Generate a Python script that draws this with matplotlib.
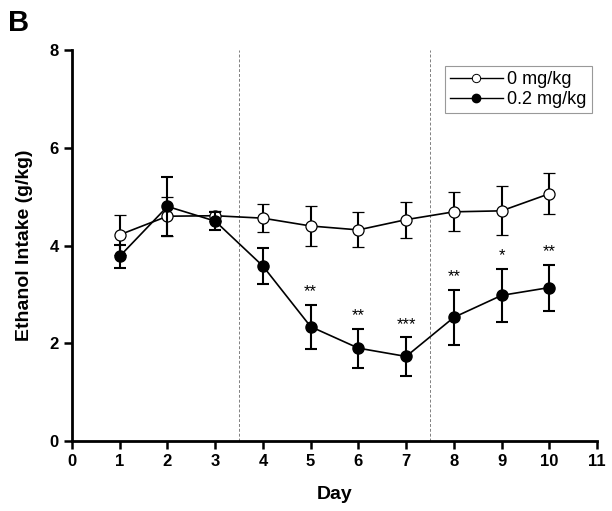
import numpy as np
import matplotlib.pyplot as plt
from matplotlib.lines import Line2D

plt.rcParams['font.family'] = ['Liberation Sans', 'DejaVu Sans']

# datos
days = [1, 2, 3, 4, 5, 6, 7, 8, 9, 10]
veh_mean = [4.22, 4.60, 4.61, 4.56, 4.40, 4.32, 4.53, 4.69, 4.71, 5.06]
veh_sem = [0.41, 0.40, 0.10, 0.28, 0.41, 0.36, 0.37, 0.40, 0.50, 0.42]
drug_mean = [3.78, 4.80, 4.50, 3.58, 2.34, 1.90, 1.73, 2.53, 2.98, 3.14]
drug_sem = [0.23, 0.60, 0.19, 0.37, 0.45, 0.40, 0.39, 0.56, 0.54, 0.47]
stars = ['', '', '', '', '**', '**', '***', '**', '*', '**']

fig = plt.figure(figsize=(6.12, 5.11), dpi=100)
ax = fig.add_axes([0.1176, 0.137, 0.858, 0.765])

ax.axvline(3.5, color='gray', ls=(0, (3, 2)), lw=0.7, zorder=0)
ax.axvline(7.5, color='gray', ls=(0, (3, 2)), lw=0.7, zorder=0)

ax.errorbar(days, veh_mean, yerr=veh_sem, color='black', lw=1.2, elinewidth=1.5,
            capsize=4, capthick=1.5, marker='o', ms=8, mfc='white', mec='black',
            mew=0.9, zorder=3)
ax.errorbar(days, drug_mean, yerr=drug_sem, color='black', lw=1.2, elinewidth=1.5,
            capsize=4, capthick=1.5, marker='o', ms=8, mfc='black', mec='black',
            zorder=4)

for d, m, s, t in zip(days, drug_mean, drug_sem, stars):
    if t:
        ax.annotate(t, (d, m + s), xytext=(0, 4), textcoords='offset points',
                    ha='center', va='bottom', fontsize=12)

ax.set_xlim(0, 11)
ax.set_ylim(0, 8)
ax.set_xticks(range(0, 12))
ax.set_yticks([0, 2, 4, 6, 8])
for sp in ['top', 'right']:
    ax.spines[sp].set_visible(False)
for sp in ['left', 'bottom']:
    ax.spines[sp].set_linewidth(2)
ax.tick_params(direction='out', length=6, width=1.8, labelsize=12)
for lb in ax.get_xticklabels() + ax.get_yticklabels():
    lb.set_fontweight('bold')

ax.set_xlabel('Day', fontsize=14, fontweight='bold', labelpad=12)
ax.set_ylabel('Ethanol Intake (g/kg)', fontsize=14, fontweight='bold', labelpad=12)

handles = [Line2D([], [], color='black', lw=1, marker='o', ms=6, mfc='white', mec='black', mew=0.7),
           Line2D([], [], color='black', lw=1, marker='o', ms=6, mfc='black', mec='black')]
leg = ax.legend(handles, ['0 mg/kg', '0.2 mg/kg'], loc='upper right',
                bbox_to_anchor=(0.99, 0.96), fontsize=13,
                fancybox=False, edgecolor='gray', handlelength=2.9,
                borderpad=0.3, labelspacing=0.15, handletextpad=0.25, borderaxespad=0)
leg.get_frame().set_linewidth(0.8)

fig.text(0.013, 0.94, 'B', fontsize=21, fontweight='bold')

fig.savefig('out.png', dpi=100)
